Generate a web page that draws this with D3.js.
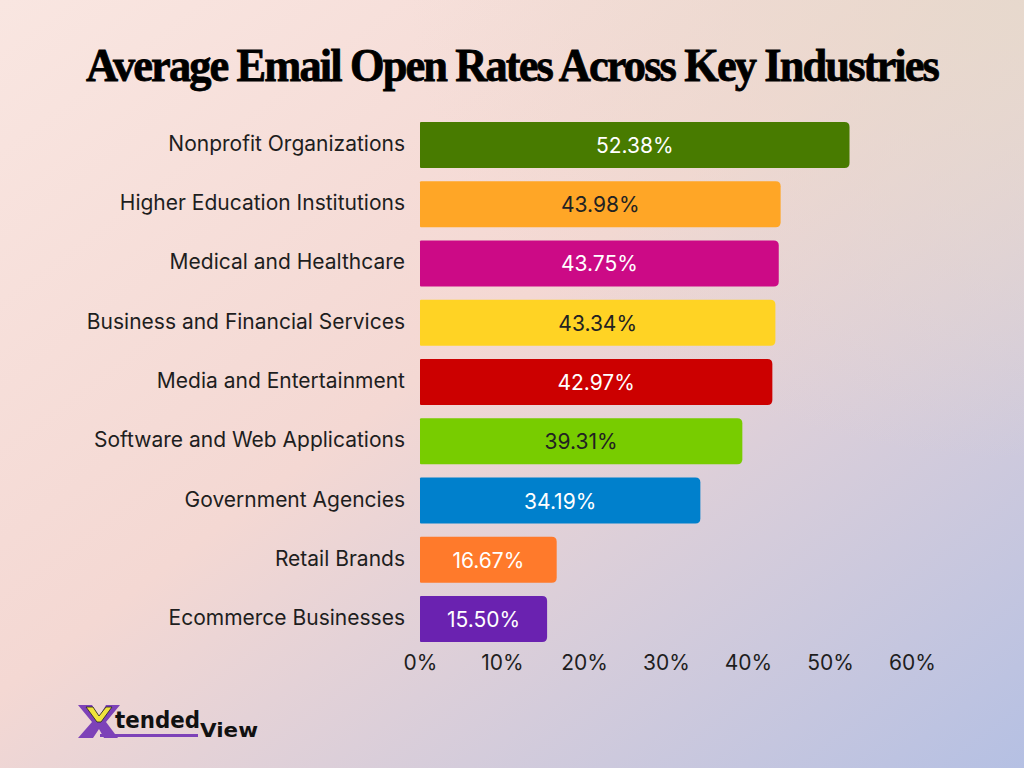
<!DOCTYPE html>
<html><head><meta charset="utf-8">
<script src="https://cdn.jsdelivr.net/npm/d3@7"></script>
<style>html,body{margin:0;padding:0;}svg{display:block;}</style>
</head><body>
<script>
const categories = ["Nonprofit Organizations","Higher Education Institutions","Medical and Healthcare","Business and Financial Services","Media and Entertainment","Software and Web Applications","Government Agencies","Retail Brands","Ecommerce Businesses"];
const values = [52.38,43.98,43.75,43.34,42.97,39.31,34.19,16.67,15.50];
const colors = ["#487b00","#ffa626","#cc0a86","#ffd324","#cc0000","#78cc00","#0080cc","#ff7a2b","#6a22b0"];
const labelColors = ["#ffffff","#222222","#ffffff","#222222","#ffffff","#222222","#ffffff","#ffffff","#ffffff"];
const ticks = [0,10,20,30,40,50,60];
const title = "Average Email Open Rates Across Key Industries";

const W=1024,H=768;
const svg=d3.select("body").append("svg").attr("width",W).attr("height",H);
const defs=svg.append("defs");
const g1=defs.append("linearGradient").attr("id","bg").attr("x1","0").attr("y1","0").attr("x2","1").attr("y2","1");
g1.append("stop").attr("offset","0%").attr("stop-color","#f9e6e1");
g1.append("stop").attr("offset","45%").attr("stop-color","#f4d8d3");
g1.append("stop").attr("offset","100%").attr("stop-color","#b5c0e3");
svg.append("rect").attr("width",W).attr("height",H).attr("fill","url(#bg)");
const g2=defs.append("radialGradient").attr("id","tr").attr("cx","1").attr("cy","0").attr("r","0.6");
g2.append("stop").attr("offset","0%").attr("stop-color","#e6d9cc").attr("stop-opacity",0.9);
g2.append("stop").attr("offset","100%").attr("stop-color","#e6d9cc").attr("stop-opacity",0);
svg.append("rect").attr("width",W).attr("height",H).attr("fill","url(#tr)");

svg.append("text").attr("x",512).attr("y",81).attr("text-anchor","middle")
  .attr("font-family","Liberation Serif, DejaVu Serif, serif").attr("font-weight","bold")
  .attr("font-size",47).attr("fill","#000").attr("stroke","#000").attr("stroke-width",0.8)
  .attr("textLength",852).attr("lengthAdjust","spacingAndGlyphs")
  .style("letter-spacing","-2px").text(title);

const x=d3.scaleLinear().domain([0,60]).range([420,912]);
const y=d3.scaleBand().domain(categories).range([115.5,648.5]).paddingInner(0.225).paddingOuter(0.11);

function barPath(x0,y0,w,h,r,rl){
  return `M${x0+rl},${y0}H${x0+w-r}Q${x0+w},${y0} ${x0+w},${y0+r}V${y0+h-r}Q${x0+w},${y0+h} ${x0+w-r},${y0+h}H${x0+rl}Q${x0},${y0+h} ${x0},${y0+h-rl}V${y0+rl}Q${x0},${y0} ${x0+rl},${y0}Z`;
}
const font="Inter, Roboto, 'Noto Sans', sans-serif";
const rows=svg.append("g").selectAll("g").data(categories).join("g");
rows.append("path").attr("d",(d,i)=>barPath(x(0),y(d),x(values[i])-x(0),y.bandwidth(),5,1)).attr("fill",(d,i)=>colors[i]);
rows.append("text").attr("x",(d,i)=>(x(0)+x(values[i]))/2).attr("y",d=>y(d)+y.bandwidth()/2+8)
  .attr("text-anchor","middle").attr("font-family",font).attr("font-size",21).attr("fill",(d,i)=>labelColors[i])
  .text((d,i)=>values[i].toFixed(2)+"%");
rows.append("text").attr("x",405).attr("y",d=>y(d)+y.bandwidth()/2+6).attr("text-anchor","end")
  .attr("font-family",font).attr("font-size",21).attr("fill","#1e1e1e").text(d=>d);

const ax=svg.append("g").attr("transform","translate(0,651)")
  .call(d3.axisBottom(x).tickValues(ticks).tickFormat(d=>d+"%").tickSize(0).tickPadding(0));
ax.select(".domain").remove();
ax.selectAll("text").attr("font-family",font).attr("font-size",21).attr("fill","#1e1e1e").attr("dy","0.9em");

// logo
const lg=svg.append("g").attr("transform","translate(78,705)");
lg.append("path").attr("d","M0,0 L14,0 L21,12 L28,0 L42,0 L28,17 L40,33 L26,33 L21,24 L15,33 L0,33 L14,17 Z").attr("fill","#7d42b8");
lg.append("rect").attr("x",22).attr("y",29).attr("width",98).attr("height",3).attr("fill","#7d42b8");
lg.append("path").attr("d","M8,2 L15,2 L21,11 L28,2 L34,2 L23,17 L19,17 Z").attr("fill","#f0e33c").attr("stroke","#222").attr("stroke-width",0.8);
lg.append("text").attr("x",37).attr("y",23).attr("font-family","DejaVu Sans, sans-serif").attr("font-weight","bold")
  .attr("font-size",23).attr("fill","#111").attr("textLength",85).attr("lengthAdjust","spacingAndGlyphs").text("tended");
lg.append("text").attr("x",122).attr("y",32).attr("font-family","DejaVu Sans, sans-serif").attr("font-weight","bold")
  .attr("font-size",20).attr("fill","#111").attr("textLength",58).attr("lengthAdjust","spacingAndGlyphs").text("View");
</script>
</body></html>
